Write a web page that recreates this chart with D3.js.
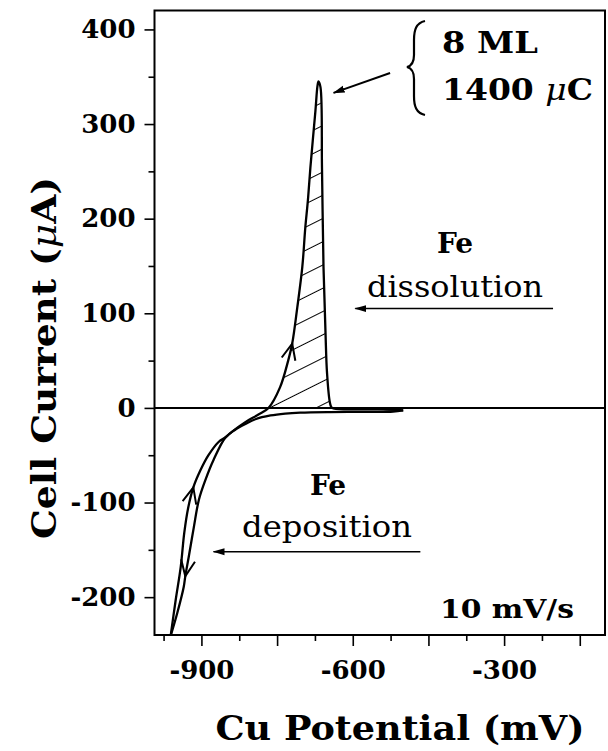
<!DOCTYPE html>
<html>
<head>
<meta charset="utf-8">
<script src="https://cdn.jsdelivr.net/npm/d3@7"></script>
<style>
  body { margin: 0; background: #fff; }
  svg { display: block; }
  text { font-family: "DejaVu Serif", serif; fill: #000; }
</style>
</head>
<body>
<div id="chart"></div>
<script>
// potential (mV), current (uA)
const anodicSweep = [
  [-961, -241], [-951, -203], [-941, -168], [-934, -132], [-926, -105],
  [-916, -84], [-902, -66], [-886, -50], [-866, -36], [-852, -31],
  [-839, -25], [-813, -15], [-787, -7], [-767, 0], [-744, 22],
  [-728, 50], [-720, 68], [-710, 106], [-700, 149], [-694, 191],
  [-689, 219], [-684, 254], [-674, 314], [-670, 340], [-668, 345],
  [-664, 339], [-661, 254], [-658, 149], [-654, 79], [-651, 37],
  [-645, 5], [-641, 0], [-600, -1.5], [-540, -1.6], [-500, -2.6]
];
const cathodicSweep = [
  [-500, -2.6], [-520, -3.8], [-565, -4.2], [-645, -4.4], [-704, -5],
  [-734, -6], [-763, -8], [-793, -12], [-813, -17], [-833, -23],
  [-852, -31], [-876, -55], [-892, -76], [-905, -97], [-915, -126],
  [-925, -157], [-932, -178], [-935, -189], [-948, -217], [-961, -241]
];
// sweep direction arrows: tip and a point behind it on the trace
const sweepArrows = [
  { tip: [-916, -84], back: [-926, -105] },
  { tip: [-720, 68], back: [-728, 50] },
  { tip: [-932, -178], back: [-925, -157] }
];
const xLabelTicks = [-900, -600, -300];
const xLongTicks = [-900, -750, -600, -450, -300, -150];
const xShortTicks = [-975, -825, -675, -525, -375, -225];
const yMajorTicks = [-200, -100, 0, 100, 200, 300, 400];
const yMinorTicks = [-150, -50, 50, 150, 250, 350];

const width = 608, height = 751;

const svg = d3.select("#chart").append("svg")
  .attr("width", width)
  .attr("height", height);

const x = d3.scaleLinear().domain([-993, -100]).range([154.5, 605]);
const y = d3.scaleLinear().domain([-240, 420]).range([635, 10.5]);

const defs = svg.append("defs");
defs.append("clipPath").attr("id", "plot-clip")
  .append("rect")
  .attr("x", x(-993)).attr("y", y(420))
  .attr("width", x(-100) - x(-993)).attr("height", y(-240) - y(420));

defs.append("marker")
  .attr("id", "head")
  .attr("viewBox", "0 -4 12 8")
  .attr("refX", 11).attr("refY", 0)
  .attr("markerWidth", 12).attr("markerHeight", 8)
  .attr("markerUnits", "userSpaceOnUse")
  .attr("orient", "auto")
  .append("path").attr("d", "M0,-3.5L12,0L0,3.5Z").attr("fill", "#000");

// hatching for the stripping charge
defs.append("pattern")
  .attr("id", "hatch")
  .attr("patternUnits", "userSpaceOnUse")
  .attr("width", 40).attr("height", 20.8)
  .attr("patternTransform", `translate(${x(-767)},${y(0)}) rotate(-26.57)`)
  .append("line")
  .attr("x1", 0).attr("x2", 40).attr("y1", 0).attr("y2", 0)
  .attr("stroke", "#000").attr("stroke-width", 1.8);

const plot = svg.append("g").attr("clip-path", "url(#plot-clip)");

const line = d3.line().x(d => x(d[0])).y(d => y(d[1]));

const peak = anodicSweep.filter(d => d[1] >= 0);
plot.append("path")
  .attr("d", line(peak) + "Z")
  .attr("fill", "url(#hatch)");

// zero line
plot.append("line")
  .attr("x1", x(-993)).attr("x2", x(-100))
  .attr("y1", y(0)).attr("y2", y(0))
  .attr("stroke", "#000").attr("stroke-width", 2);

[anodicSweep, cathodicSweep].forEach(s => {
  plot.append("path")
    .attr("d", line.curve(d3.curveCatmullRom)(s))
    .attr("fill", "none")
    .attr("stroke", "#000")
    .attr("stroke-width", 2.3)
    .attr("stroke-linejoin", "round");
});

sweepArrows.forEach(a => {
  const tx = x(a.tip[0]), ty = y(a.tip[1]);
  let dx = tx - x(a.back[0]), dy = ty - y(a.back[1]);
  const n = Math.hypot(dx, dy);
  dx /= n; dy /= n;
  const L = 16, W = 7;
  const p1 = [tx - L * dx - W * dy, ty - L * dy + W * dx];
  const p2 = [tx - L * dx + W * dy, ty - L * dy - W * dx];
  plot.append("path")
    .attr("d", `M${p1}L${tx},${ty}L${p2}`)
    .attr("fill", "none").attr("stroke", "#000").attr("stroke-width", 2);
});

// frame
svg.append("rect")
  .attr("x", x(-993)).attr("y", y(420))
  .attr("width", x(-100) - x(-993)).attr("height", y(-240) - y(420))
  .attr("fill", "none").attr("stroke", "#000").attr("stroke-width", 2);

// axes
svg.append("g")
  .attr("transform", `translate(${x(-993)},0)`)
  .call(d3.axisLeft(y).tickValues(yMajorTicks).tickSize(10).tickPadding(9).tickFormat(d => d));
svg.append("g")
  .attr("transform", `translate(${x(-993)},0)`)
  .call(d3.axisLeft(y).tickValues(yMinorTicks).tickSize(6).tickFormat(""));

svg.append("g")
  .attr("transform", `translate(0,${y(-240)})`)
  .call(d3.axisBottom(x).tickValues(xLongTicks).tickSize(11).tickPadding(15)
    .tickFormat(d => xLabelTicks.includes(d) ? d : ""));
svg.append("g")
  .attr("transform", `translate(0,${y(-240)})`)
  .call(d3.axisBottom(x).tickValues(xShortTicks).tickSize(6).tickFormat(""));

svg.selectAll(".domain").remove();
svg.selectAll(".tick line").attr("stroke", "#000").attr("stroke-width", 1.6);
svg.selectAll(".tick text")
  .attr("font-size", 26)
  .attr("font-family", "DejaVu Serif")
  .attr("font-weight", "bold")
  .attr("fill", "#000");

// axis titles
svg.append("text")
  .attr("transform", "translate(56,358) rotate(-90)")
  .attr("text-anchor", "middle")
  .attr("font-size", 34).attr("font-weight", "bold")
  .attr("textLength", 362).attr("lengthAdjust", "spacingAndGlyphs")
  .html('Cell Current (<tspan font-style="italic" font-weight="normal">μ</tspan>A)');

svg.append("text")
  .attr("x", 400).attr("y", 740)
  .attr("text-anchor", "middle")
  .attr("font-size", 34).attr("font-weight", "bold")
  .attr("textLength", 369).attr("lengthAdjust", "spacingAndGlyphs")
  .text("Cu Potential (mV)");

// annotations
svg.append("path")
  .attr("d", "M425,21 C416,23 414,30 414,40 L414,55 C414,62 411,66 407,67 C411,68 414,72 414,79 L414,96 C414,106 416,113 425,115")
  .attr("fill", "none").attr("stroke", "#000").attr("stroke-width", 2.2);

svg.append("text").attr("x", 442).attr("y", 53)
  .attr("font-size", 30).attr("font-weight", "bold")
  .attr("textLength", 96).attr("lengthAdjust", "spacingAndGlyphs")
  .text("8 ML");
svg.append("text").attr("x", 442).attr("y", 100)
  .attr("font-size", 30).attr("font-weight", "bold")
  .attr("textLength", 151).attr("lengthAdjust", "spacingAndGlyphs")
  .html('1400 <tspan font-style="italic" font-weight="normal">μ</tspan>C');

svg.append("line")
  .attr("x1", x(-526)).attr("y1", y(354))
  .attr("x2", x(-638)).attr("y2", y(333))
  .attr("stroke", "#000").attr("stroke-width", 2)
  .attr("marker-end", "url(#head)");

svg.append("text").attr("x", 455).attr("y", 253)
  .attr("text-anchor", "middle").attr("font-size", 28).attr("font-weight", "bold")
  .text("Fe");
svg.append("text").attr("x", 455).attr("y", 297)
  .attr("text-anchor", "middle").attr("font-size", 29).attr("font-weight", "normal")
  .attr("textLength", 176).attr("lengthAdjust", "spacingAndGlyphs")
  .text("dissolution");
svg.append("line")
  .attr("x1", x(-203)).attr("y1", y(105))
  .attr("x2", x(-595)).attr("y2", y(105))
  .attr("stroke", "#000").attr("stroke-width", 1.6)
  .attr("marker-end", "url(#head)");

svg.append("text").attr("x", 328).attr("y", 495)
  .attr("text-anchor", "middle").attr("font-size", 28).attr("font-weight", "bold")
  .text("Fe");
svg.append("text").attr("x", 327).attr("y", 537)
  .attr("text-anchor", "middle").attr("font-size", 29).attr("font-weight", "normal")
  .attr("textLength", 170).attr("lengthAdjust", "spacingAndGlyphs")
  .text("deposition");
svg.append("line")
  .attr("x1", x(-466)).attr("y1", y(-152))
  .attr("x2", x(-876)).attr("y2", y(-152))
  .attr("stroke", "#000").attr("stroke-width", 1.6)
  .attr("marker-end", "url(#head)");

svg.append("text").attr("x", 440).attr("y", 618)
  .attr("font-size", 26).attr("font-weight", "bold")
  .attr("textLength", 134).attr("lengthAdjust", "spacingAndGlyphs")
  .text("10 mV/s");
</script>
</body>
</html>
